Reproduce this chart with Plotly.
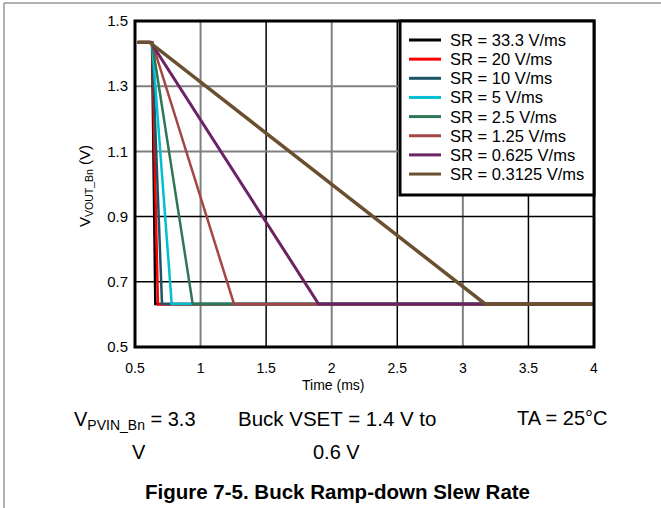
import plotly.graph_objects as go

# ---- data ----
series_names = ["SR = 33.3 V/ms", "SR = 20 V/ms", "SR = 10 V/ms", "SR = 5 V/ms",
                "SR = 2.5 V/ms", "SR = 1.25 V/ms", "SR = 0.625 V/ms", "SR = 0.3125 V/ms"]
series_colors = ["#000000", "#ff0000", "#1b5565", "#00bfd0",
                 "#2e7656", "#a64545", "#6a2464", "#6b5030"]
series_widths = [2.5, 2.5, 2.5, 2.5, 2.5, 2.5, 3, 3.5]
# time points (ms): trace start, ramp start, ramp end, trace end
t_start = [0.52, 0.52, 0.52, 0.52, 0.52, 0.52, 0.52, 0.52]
t_ramp = [0.63, 0.63, 0.63, 0.63, 0.63, 0.63, 0.62, 0.61]
t_end = [0.655, 0.675, 0.706, 0.78, 0.94, 1.255, 1.90, 3.17]
t_stop = [4.0, 4.0, 4.0, 4.0, 4.0, 4.0, 4.0, 4.0]
v_high = [1.435, 1.435, 1.435, 1.435, 1.435, 1.435, 1.435, 1.435]
v_low = [0.632, 0.630, 0.632, 0.632, 0.632, 0.632, 0.632, 0.632]

x_ticks = [0.5, 1, 1.5, 2, 2.5, 3, 3.5, 4]
y_ticks = [0.5, 0.7, 0.9, 1.1, 1.3, 1.5]
grid_x_gray = [1, 2, 3]
grid_x_black = [1.5, 2.5, 3.5]
grid_y_gray = [1.1, 1.3]
grid_y_black = [0.7, 0.9]

FONT = "Liberation Sans, Arial, sans-serif"

W, H = 661, 508
L, R, T, B = 135, 67, 21, 161
pw, ph = W - L - R, H - T - B


def px(xp):
    return (xp - L) / pw


def py(yp):
    return (H - B - yp) / ph


fig = go.Figure()
for i, name in enumerate(series_names):
    fig.add_trace(go.Scatter(
        x=[t_start[i], t_ramp[i], t_end[i], t_stop[i]],
        y=[v_high[i], v_high[i], v_low[i], v_low[i]],
        mode="lines", name=name, showlegend=False,
        line=dict(color=series_colors[i], width=series_widths[i]),
    ))

shapes = []
for gx in grid_x_gray:
    shapes.append(dict(type="line", xref="x", yref="paper", x0=gx, x1=gx, y0=0, y1=1,
                       line=dict(color="#808080", width=2), layer="below"))
for gx in grid_x_black:
    shapes.append(dict(type="line", xref="x", yref="paper", x0=gx, x1=gx, y0=0, y1=1,
                       line=dict(color="#000000", width=1.5), layer="below"))
for gy in grid_y_gray:
    shapes.append(dict(type="line", xref="paper", yref="y", x0=0, x1=1, y0=gy, y1=gy,
                       line=dict(color="#808080", width=2), layer="below"))
for gy in grid_y_black:
    shapes.append(dict(type="line", xref="paper", yref="y", x0=0, x1=1, y0=gy, y1=gy,
                       line=dict(color="#000000", width=1.5), layer="below"))
# plot frame
shapes.append(dict(type="rect", xref="paper", yref="paper", x0=0, x1=1, y0=0, y1=1,
                   line=dict(color="#000000", width=3), layer="above"))
# page borders (gray cell lines)
shapes.append(dict(type="line", xref="paper", yref="paper", x0=px(4), x1=px(661),
                   y0=py(3), y1=py(3), line=dict(color="#999999", width=1.5)))
shapes.append(dict(type="line", xref="paper", yref="paper", x0=px(4), x1=px(4),
                   y0=py(3), y1=py(508), line=dict(color="#999999", width=1.5)))

annotations = []
# legend box (drawn in paper space)
shapes.append(dict(type="rect", xref="paper", yref="paper", x0=px(400), x1=px(594),
                   y0=py(195), y1=py(21), fillcolor="white",
                   line=dict(color="#000000", width=3), layer="above"))
for i, name in enumerate(series_names):
    yy = 40 + 19.15 * i
    shapes.append(dict(type="line", xref="paper", yref="paper", x0=px(409), x1=px(441),
                       y0=py(yy), y1=py(yy), layer="above",
                       line=dict(color=series_colors[i], width=3)))
    annotations.append(dict(text=name, xref="paper", yref="paper", x=px(448), y=py(yy),
                            showarrow=False, xanchor="left", yanchor="middle",
                            font=dict(size=16.5, color="#000")))

annotations += [
    dict(text="V<sub>VOUT_Bn</sub> (V)", xref="paper", yref="paper", x=px(85), y=py(186),
         textangle=-90, showarrow=False, font=dict(size=15, color="#000"),
         xanchor="center", yanchor="middle"),
    dict(text="Time (ms)", xref="paper", yref="paper", x=px(333), y=py(385),
         showarrow=False, font=dict(size=14, color="#000"), xanchor="center", yanchor="middle"),
    dict(text="V<sub>PVIN_Bn</sub> = 3.3", xref="paper", yref="paper", x=px(72), y=py(420),
         showarrow=False, font=dict(size=20, color="#000"), xanchor="left", yanchor="middle"),
    dict(text="V", xref="paper", yref="paper", x=px(139), y=py(452),
         showarrow=False, font=dict(size=20, color="#000"), xanchor="center", yanchor="middle"),
    dict(text="Buck VSET = 1.4 V to", xref="paper", yref="paper", x=px(236), y=py(418),
         showarrow=False, font=dict(size=20.5, color="#000"), xanchor="left", yanchor="middle"),
    dict(text="0.6 V", xref="paper", yref="paper", x=px(336), y=py(452),
         showarrow=False, font=dict(size=20, color="#000"), xanchor="center", yanchor="middle"),
    dict(text="TA = 25°C", xref="paper", yref="paper", x=px(609), y=py(418),
         showarrow=False, font=dict(size=20, color="#000"), xanchor="right", yanchor="middle"),
    dict(text="<b>Figure 7-5. Buck Ramp-down Slew Rate</b>", xref="paper", yref="paper",
         x=px(337), y=py(491), showarrow=False, font=dict(size=20.5, color="#000"),
         xanchor="center", yanchor="middle"),
]

fig.update_layout(
    width=W, height=H,
    margin=dict(l=L, r=R, t=T, b=B),
    paper_bgcolor="white", plot_bgcolor="white",
    font=dict(family=FONT, size=14, color="#000"),
    showlegend=False,
    shapes=shapes,
    annotations=annotations,
)
fig.update_xaxes(range=[0.5, 4], tickvals=x_ticks, ticktext=[str(v) for v in x_ticks],
                 showgrid=False, zeroline=False, showline=False, ticks="",
                 ticklabelstandoff=11,
                 tickfont=dict(size=14, color="#000"))
fig.update_yaxes(range=[0.5, 1.5], tickvals=y_ticks, ticktext=[str(v) for v in y_ticks],
                 showgrid=False, zeroline=False, showline=False, ticks="",
                 ticklabelstandoff=6,
                 tickfont=dict(size=15, color="#000"))

fig.write_html("out.html", config={"displayModeBar": False},
               post_script="document.body.style.margin='0';document.body.style.padding='0';")
